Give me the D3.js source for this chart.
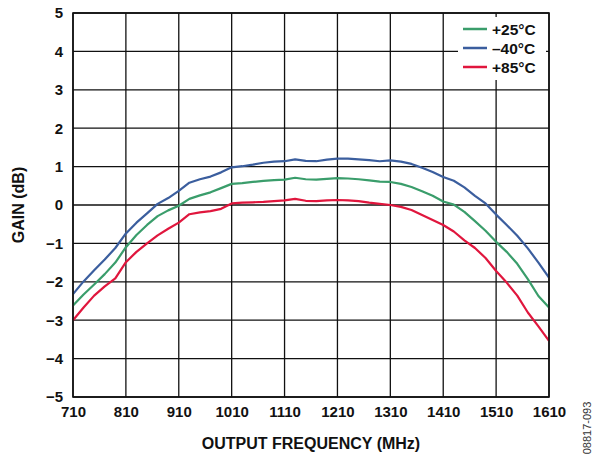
<!DOCTYPE html>
<html>
<head>
<meta charset="utf-8">
<script src="https://cdn.jsdelivr.net/npm/d3@7"></script>
<style>
  body { margin: 0; background: #fff; }
  svg text { font-family: "Liberation Sans", Arial, sans-serif; }
</style>
</head>
<body>
<svg id="chart" width="595" height="458"></svg>
<script>
// frequency grid (MHz)
const freq = [710, 730, 750, 770, 790, 810, 830, 850, 870, 890, 910, 930, 950, 970, 990,
  1010, 1030, 1050, 1070, 1090, 1110, 1130, 1150, 1170, 1190, 1210, 1230, 1250, 1270, 1290,
  1310, 1330, 1350, 1370, 1390, 1410, 1430, 1450, 1470, 1490, 1510, 1530, 1550, 1570, 1590, 1610];

// gain in dB, one array per temperature
const gain25 = [-2.62, -2.33, -2.07, -1.80, -1.50, -1.10, -0.78, -0.52, -0.29, -0.14, -0.02, 0.16, 0.25, 0.33, 0.44,
  0.55, 0.57, 0.60, 0.63, 0.65, 0.66, 0.71, 0.67, 0.66, 0.68, 0.70, 0.69, 0.67, 0.64, 0.61,
  0.60, 0.55, 0.47, 0.36, 0.24, 0.09, 0.01, -0.18, -0.42, -0.67, -0.96, -1.22, -1.53, -1.93, -2.37, -2.67];
const gainM40 = [-2.32, -1.99, -1.70, -1.42, -1.12, -0.74, -0.46, -0.22, 0.03, 0.18, 0.37, 0.58, 0.67, 0.74, 0.85,
  0.98, 1.01, 1.05, 1.10, 1.13, 1.14, 1.19, 1.15, 1.14, 1.18, 1.21, 1.21, 1.19, 1.17, 1.14,
  1.16, 1.13, 1.07, 0.97, 0.86, 0.73, 0.63, 0.46, 0.24, 0.04, -0.25, -0.52, -0.80, -1.13, -1.50, -1.89];
const gain85 = [-3.00, -2.67, -2.36, -2.12, -1.91, -1.49, -1.22, -1.00, -0.79, -0.62, -0.46, -0.24, -0.19, -0.16, -0.10,
  0.04, 0.06, 0.07, 0.08, 0.10, 0.12, 0.16, 0.11, 0.10, 0.12, 0.13, 0.12, 0.10, 0.06, 0.03,
  0.00, -0.05, -0.13, -0.26, -0.39, -0.52, -0.69, -0.92, -1.12, -1.38, -1.72, -2.02, -2.36, -2.80, -3.16, -3.54];

const seriesNames = ["+25°C", "–40°C", "+85°C"];
const seriesData = [gain25, gainM40, gain85];
const seriesColors = ["#3a9d6b", "#3b5e9e", "#e0163d"];

const xTicks = [710, 810, 910, 1010, 1110, 1210, 1310, 1410, 1510, 1610];
const yTicks = [-5, -4, -3, -2, -1, 0, 1, 2, 3, 4, 5];

const svg = d3.select("#chart");
const margin = { top: 13, right: 46, bottom: 61, left: 73 },
      width = +svg.attr("width") - margin.left - margin.right,
      height = +svg.attr("height") - margin.top - margin.bottom;

const g = svg.append("g").attr("transform", `translate(${margin.left},${margin.top})`);

const x = d3.scaleLinear().domain([710, 1610]).range([0, width]);
const y = d3.scaleLinear().domain([-5, 5]).range([height, 0]);

// grid
g.append("g").selectAll("line").data(xTicks).enter().append("line")
  .attr("x1", d => x(d)).attr("x2", d => x(d)).attr("y1", 0).attr("y2", height)
  .attr("stroke", "#111").attr("stroke-width", 1.3);
g.append("g").selectAll("line").data(yTicks).enter().append("line")
  .attr("x1", 0).attr("x2", width).attr("y1", d => y(d)).attr("y2", d => y(d))
  .attr("stroke", "#111").attr("stroke-width", 1.3);

// legend background hides the grid behind it
const legend = g.append("g").attr("transform", `translate(${width - 91},4)`);
legend.append("rect").attr("width", 88).attr("height", 63).attr("fill", "#fff");

// curves
const line = d3.line().x((d, i) => x(freq[i])).y(d => y(d));
seriesData.forEach((vals, k) => {
  g.append("path").datum(vals)
    .attr("fill", "none")
    .attr("stroke", seriesColors[k])
    .attr("stroke-width", 2.2)
    .attr("stroke-linejoin", "round")
    .attr("d", line);
});

// frame
g.append("rect").attr("width", width).attr("height", height)
  .attr("fill", "none").attr("stroke", "#111").attr("stroke-width", 1.6);

// axes (labels only)
const xAxis = g.append("g").attr("transform", `translate(0,${height})`)
  .call(d3.axisBottom(x).tickValues(xTicks).tickSize(0).tickPadding(9).tickFormat(d3.format("d")));
const yAxis = g.append("g")
  .call(d3.axisLeft(y).tickValues(yTicks).tickSize(0).tickPadding(10));
[xAxis, yAxis].forEach(a => {
  a.select(".domain").remove();
  a.selectAll("text").attr("font-family", "Liberation Sans, Arial, sans-serif")
    .attr("font-size", 15).attr("font-weight", "bold").attr("fill", "#111");
});

// legend entries
seriesNames.forEach((name, k) => {
  const row = legend.append("g").attr("transform", `translate(0,${12 + k * 19})`);
  row.append("line").attr("x1", 5).attr("x2", 29).attr("y1", 0).attr("y2", 0)
    .attr("stroke", seriesColors[k]).attr("stroke-width", 2.5);
  row.append("text").attr("x", 34).attr("y", 5.5)
    .attr("font-size", 15.5).attr("font-weight", "bold").attr("fill", "#111").text(name);
});

// axis titles
svg.append("text").attr("x", margin.left + width / 2).attr("y", 449)
  .attr("text-anchor", "middle").attr("font-size", 16).attr("font-weight", "bold")
  .attr("fill", "#111").text("OUTPUT FREQUENCY (MHz)");
svg.append("text").attr("transform", `translate(24,${margin.top + height / 2}) rotate(-90)`)
  .attr("text-anchor", "middle").attr("font-size", 16).attr("font-weight", "bold")
  .attr("fill", "#111").text("GAIN (dB)");

// figure id
svg.append("text").attr("transform", "translate(591,428) rotate(-90)")
  .attr("text-anchor", "middle").attr("font-size", 11).attr("fill", "#333").text("08817-093");
</script>
</body>
</html>
